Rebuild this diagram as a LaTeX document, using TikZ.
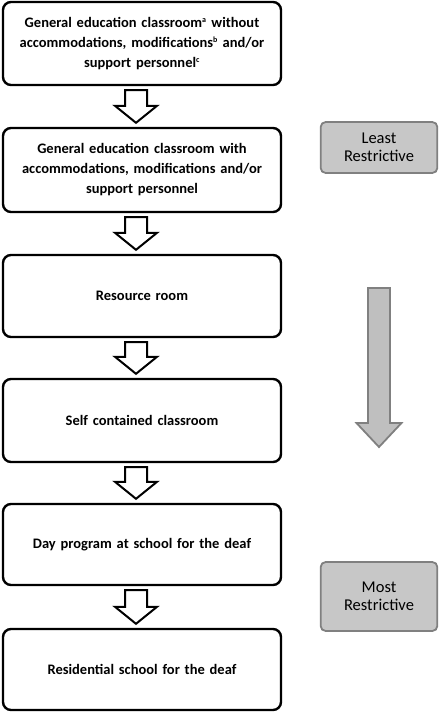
\documentclass[tikz,border=0pt]{standalone}
\usepackage{fontspec}
\setmainfont{Carlito}
\usetikzlibrary{calc}
\newcommand{\supmark}[1]{\textsuperscript{\fontsize{8}{8}\selectfont #1}}
\tikzset{
  flowbox/.style={draw=black, line width=2.4pt, rounded corners=8pt, fill=white,
    minimum width=278pt, text width=270pt, align=center,
    font=\fontsize{14.5}{20}\selectfont\bfseries},
  graybox/.style={draw=black!50, line width=1.8pt, rounded corners=5pt, fill=black!22,
    minimum width=116pt, text width=110pt, align=center,
    font=\fontsize{16.5}{18}\selectfont},
  hollowarr/.style={draw=black, line width=2pt, fill=white, line join=miter},
  grayarr/.style={draw=black!50, line width=1.8pt, fill=black!25, line join=miter}
}
\newcommand{\blockarrow}[2]{%
  \draw[hollowarr] let \p1=($(#1.south)+(-6pt,-4pt)$), \p2=($(#2.north)+(-6pt,4pt)$) in
    (\x1-11pt,\y1) -- (\x1+11pt,\y1) -- (\x1+11pt,\y2+17pt) -- (\x1+21pt,\y2+17pt)
    -- (\x1,\y2) -- (\x1-21pt,\y2+17pt) -- (\x1-11pt,\y2+17pt) -- cycle;}
\begin{document}
\begin{tikzpicture}[x=1pt,y=1pt]
\useasboundingbox (0,0) rectangle (441,-715);
\node[flowbox, minimum height=83pt] (b1) at (142,-43.5)
  {General education classroom\supmark{a} without\\ accommodations, modifications\supmark{b} and/or\\ support personnel\supmark{c}};
\node[flowbox, minimum height=84pt] (b2) at (142,-170)
  {General education classroom with\\ accommodations, modifications and/or\\ support personnel};
\node[flowbox, minimum height=82pt] (b3) at (142,-296) {Resource room};
\node[flowbox, minimum height=83pt] (b4) at (142,-420.5) {Self contained classroom};
\node[flowbox, minimum height=81pt] (b5) at (142,-544.5) {Day program at school for the deaf};
\node[flowbox, minimum height=81pt] (b6) at (142,-669.5) {Residential school for the deaf};
\blockarrow{b1}{b2}
\blockarrow{b2}{b3}
\blockarrow{b3}{b4}
\blockarrow{b4}{b5}
\blockarrow{b5}{b6}
\node[graybox, minimum height=51pt] (least) at (379,-147.5) {Least\\Restrictive};
\node[graybox, minimum height=69pt] (most) at (379,-596.5) {Most\\Restrictive};
\draw[grayarr] (368,-288) -- (390,-288) -- (390,-423) -- (401.5,-423) -- (379,-447)
  -- (356.5,-423) -- (368,-423) -- cycle;
\end{tikzpicture}
\end{document}
